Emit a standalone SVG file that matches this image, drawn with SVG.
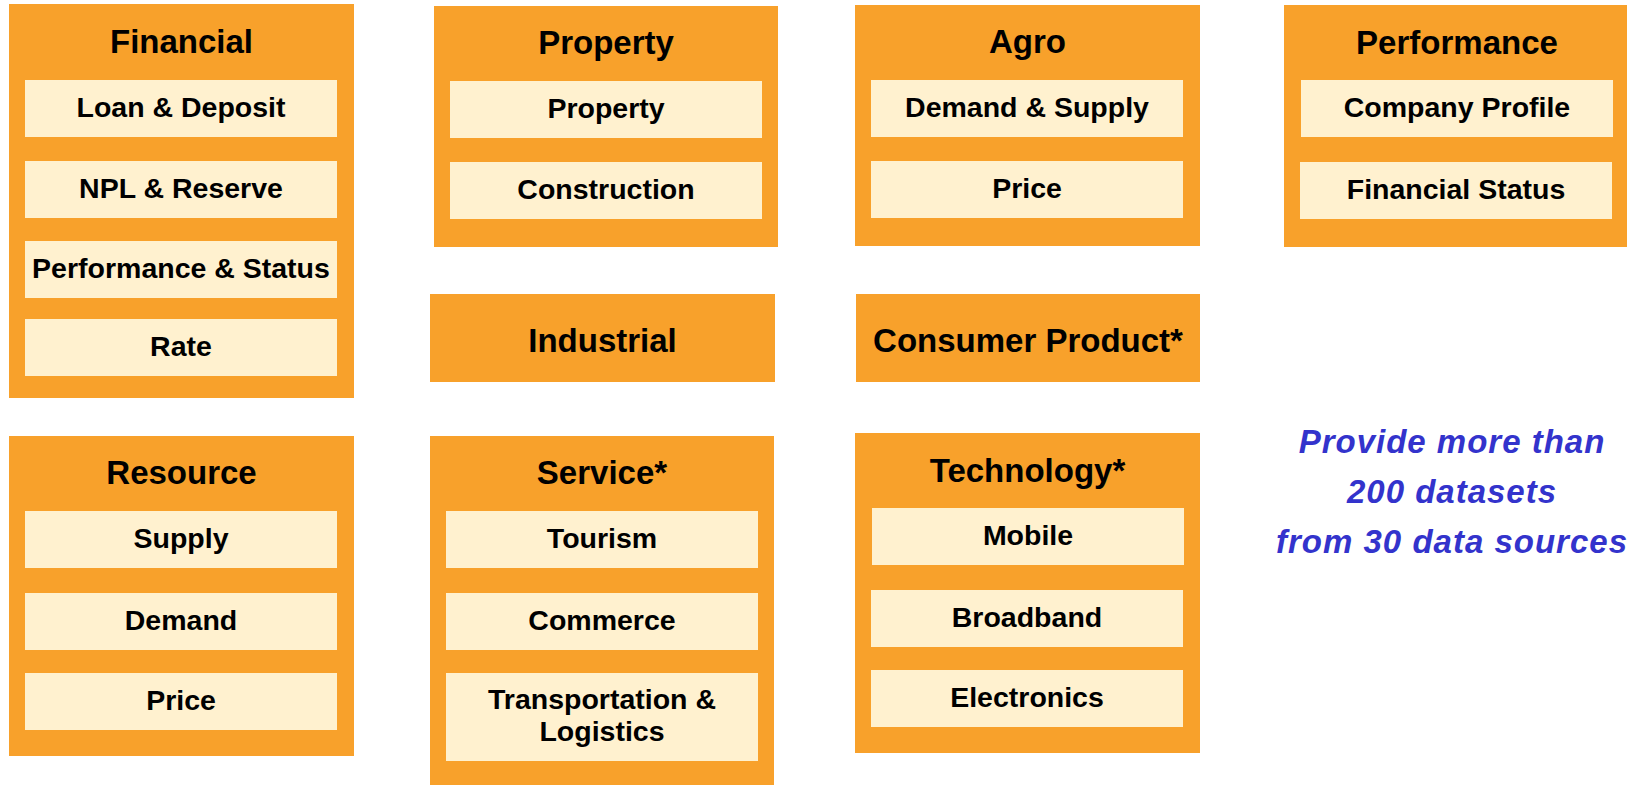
<svg xmlns="http://www.w3.org/2000/svg" width="1627" height="785" viewBox="0 0 1627 785">
<style>
.outer{fill:#F8A12B}
.inner{fill:#FFF1CF}
.t{font-family:"Liberation Sans",Arial,sans-serif;font-weight:bold;fill:#000;text-anchor:middle}
.h{font-size:33px}
.s{font-size:28.5px}
.note{font-family:"Liberation Sans",Arial,sans-serif;font-weight:bold;font-style:italic;font-size:33px;letter-spacing:1px;fill:#3333CC;text-anchor:middle}
</style>
<rect width="1627" height="785" fill="#fff"/>
<g id="financial">
<rect class="outer" x="9" y="4" width="345" height="394"/>
<text class="t h" x="181.5" y="53">Financial</text>
<rect class="inner" x="25" y="80" width="312" height="57"/>
<text class="t s" x="181" y="117">Loan &amp; Deposit</text>
<rect class="inner" x="25" y="161" width="312" height="57"/>
<text class="t s" x="181" y="198">NPL &amp; Reserve</text>
<rect class="inner" x="25" y="241" width="312" height="57"/>
<text class="t s" x="181" y="278">Performance &amp; Status</text>
<rect class="inner" x="25" y="319" width="312" height="57"/>
<text class="t s" x="181" y="356">Rate</text>
</g>
<g id="property">
<rect class="outer" x="434" y="6" width="344" height="241"/>
<text class="t h" x="606" y="54">Property</text>
<rect class="inner" x="450" y="81" width="312" height="57"/>
<text class="t s" x="606" y="118">Property</text>
<rect class="inner" x="450" y="162" width="312" height="57"/>
<text class="t s" x="606" y="199">Construction</text>
</g>
<g id="agro">
<rect class="outer" x="855" y="5" width="345" height="241"/>
<text class="t h" x="1027.5" y="53">Agro</text>
<rect class="inner" x="871" y="80" width="312" height="57"/>
<text class="t s" x="1027" y="117">Demand &amp; Supply</text>
<rect class="inner" x="871" y="161" width="312" height="57"/>
<text class="t s" x="1027" y="198">Price</text>
</g>
<g id="performance">
<rect class="outer" x="1284" y="5" width="343" height="242"/>
<text class="t h" x="1457" y="54">Performance</text>
<rect class="inner" x="1301" y="80" width="312" height="57"/>
<text class="t s" x="1457" y="117">Company Profile</text>
<rect class="inner" x="1300" y="162" width="312" height="57"/>
<text class="t s" x="1456" y="199">Financial Status</text>
</g>
<g id="industrial">
<rect class="outer" x="430" y="294" width="345" height="88"/>
<text class="t h" x="602.5" y="352">Industrial</text>
</g>
<g id="consumer">
<rect class="outer" x="856" y="294" width="344" height="88"/>
<text class="t h" x="1028" y="352">Consumer Product*</text>
</g>
<g id="resource">
<rect class="outer" x="9" y="436" width="345" height="320"/>
<text class="t h" x="181.5" y="484">Resource</text>
<rect class="inner" x="25" y="511" width="312" height="57"/>
<text class="t s" x="181" y="548">Supply</text>
<rect class="inner" x="25" y="593" width="312" height="57"/>
<text class="t s" x="181" y="630">Demand</text>
<rect class="inner" x="25" y="673" width="312" height="57"/>
<text class="t s" x="181" y="710">Price</text>
</g>
<g id="service">
<rect class="outer" x="430" y="436" width="344" height="349"/>
<text class="t h" x="602" y="484">Service*</text>
<rect class="inner" x="446" y="511" width="312" height="57"/>
<text class="t s" x="602" y="548">Tourism</text>
<rect class="inner" x="446" y="593" width="312" height="57"/>
<text class="t s" x="602" y="630">Commerce</text>
<rect class="inner" x="446" y="673" width="312" height="88"/>
<text class="t s" x="602" y="709">Transportation &amp;</text>
<text class="t s" x="602" y="741">Logistics</text>
</g>
<g id="technology">
<rect class="outer" x="855" y="433" width="345" height="320"/>
<text class="t h" x="1027.5" y="482">Technology*</text>
<rect class="inner" x="872" y="508" width="312" height="57"/>
<text class="t s" x="1028" y="545">Mobile</text>
<rect class="inner" x="871" y="590" width="312" height="57"/>
<text class="t s" x="1027" y="627">Broadband</text>
<rect class="inner" x="871" y="670" width="312" height="57"/>
<text class="t s" x="1027" y="707">Electronics</text>
</g>
<g id="note">
<text class="note" x="1452" y="453">Provide more than</text>
<text class="note" x="1452" y="503">200 datasets</text>
<text class="note" x="1452" y="553">from 30 data sources</text>
</g>
<g id="connectors"></g>
</svg>
